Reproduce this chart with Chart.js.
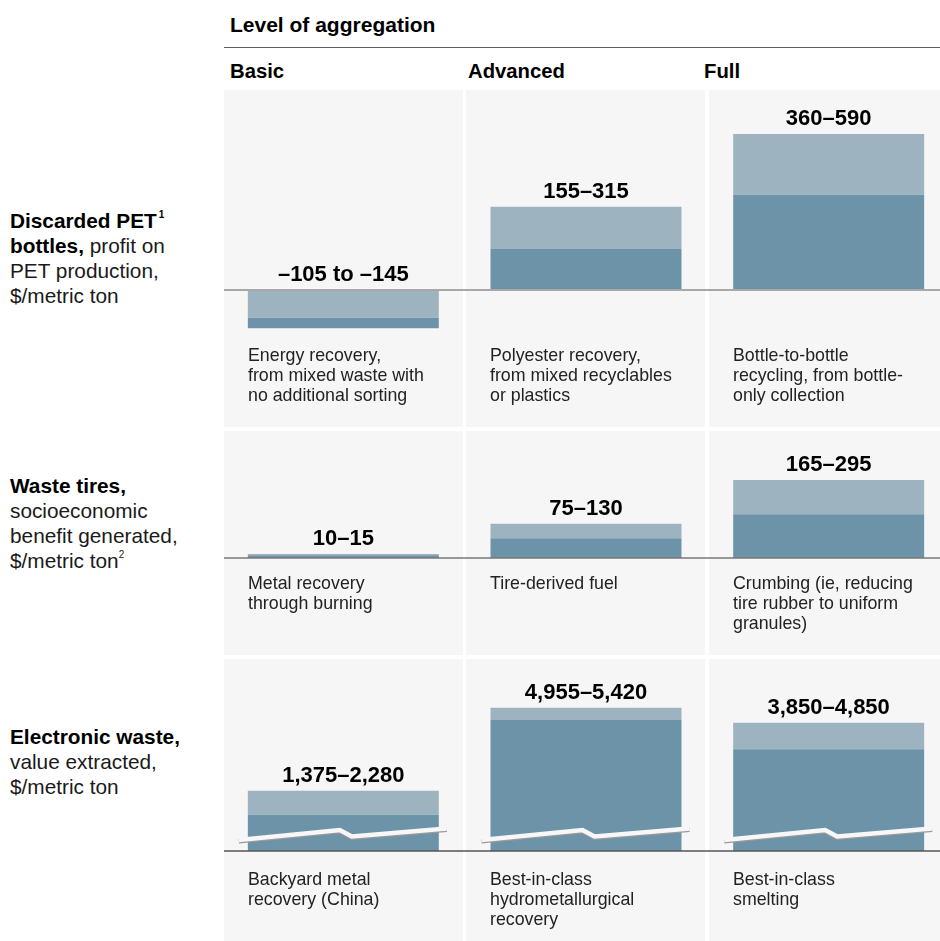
<!DOCTYPE html>
<html>
<head>
<meta charset="utf-8">
<script src="https://cdn.jsdelivr.net/npm/chart.js@4.4.1/dist/chart.umd.min.js"></script>
<style>
  html, body { margin:0; padding:0; background:#fff; }
  body { width:940px; height:941px; overflow:hidden; position:relative; font-family:"Liberation Sans", Arial, Helvetica, sans-serif; color:#000; }
  .abs { position:absolute; }
  .panel { position:absolute; background:#f6f6f6; }
  .hdr { position:absolute; font-weight:bold; font-size:20.3px; line-height:24px; white-space:nowrap; }
  .rowlab { position:absolute; left:10px; font-size:20.8px; line-height:25px; color:#1a1a1a; white-space:nowrap; }
  .rowlab b { color:#000; }
  .note { position:absolute; font-size:17.8px; line-height:20px; color:#222; white-space:nowrap; }
  sup { font-size:10px; line-height:0; vertical-align:10px; }
  canvas { position:absolute; }
</style>
</head>
<body>
<script>
// ---------- data ----------
const categories = ['Basic', 'Advanced', 'Full'];
const petLow    = [-105, 155, 360];
const petHigh   = [-145, 315, 590];
const tireLow   = [10, 75, 165];
const tireHigh  = [15, 130, 295];
const ewasteLow  = [1375, 4955, 3850];
const ewasteHigh = [2280, 5420, 4850];
const petNotes = [
  ['Energy recovery,', 'from mixed waste with', 'no additional sorting'],
  ['Polyester recovery,', 'from mixed recyclables', 'or plastics'],
  ['Bottle-to-bottle', 'recycling, from bottle-', 'only collection']
];
const tireNotes = [
  ['Metal recovery', 'through burning'],
  ['Tire-derived fuel'],
  ['Crumbing (ie, reducing', 'tire rubber to uniform', 'granules)']
];
const ewasteNotes = [
  ['Backyard metal', 'recovery (China)'],
  ['Best-in-class', 'hydrometallurgical', 'recovery'],
  ['Best-in-class', 'smelting']
];
</script>

<div class="hdr" style="left:230px; top:13px; font-size:21px;">Level of aggregation</div>
<div class="abs" style="left:224px; top:46.5px; width:716px; height:1.5px; background:#5f5f5f;"></div>
<div class="hdr" style="left:230px; top:59px;">Basic</div>
<div class="hdr" style="left:468px; top:59px;">Advanced</div>
<div class="hdr" style="left:704px; top:59px;">Full</div>

<div class="rowlab" style="top:208px;"><b>Discarded PET<sup>&thinsp;1</sup><br>bottles,</b> profit on<br>PET production,<br>$/metric ton</div>
<div class="rowlab" style="top:473px;"><b>Waste tires,</b><br>socioeconomic<br>benefit generated,<br>$/metric ton<sup style="font-weight:normal">2</sup></div>
<div class="rowlab" style="top:723.5px;"><b>Electronic waste,</b><br>value extracted,<br>$/metric ton</div>

<div id="panels"></div>
<div id="charts"></div>
<div id="notes"></div>

<script>
const colX = [[224, 463], [466, 705], [709, 940]];
const rowY = [[90, 427], [431, 655], [659, 941]];
const panelsEl = document.getElementById('panels');
rowY.forEach(r => colX.forEach(c => {
  const d = document.createElement('div');
  d.className = 'panel';
  d.style.left = c[0] + 'px'; d.style.top = r[0] + 'px';
  d.style.width = (c[1] - c[0]) + 'px'; d.style.height = (r[1] - r[0]) + 'px';
  panelsEl.appendChild(d);
}));

const noteX = [248, 490, 733];
const noteTop = [345, 573, 869];
const notesEl = document.getElementById('notes');
[petNotes, tireNotes, ewasteNotes].forEach((rowNotes, r) => {
  rowNotes.forEach((lines, c) => {
    const d = document.createElement('div');
    d.className = 'note';
    d.style.left = noteX[c] + 'px'; d.style.top = noteTop[r] + 'px';
    d.innerHTML = lines.join('<br>');
    notesEl.appendChild(d);
  });
});

const DARK = '#6d93a8';
const LIGHT = '#9db3c0';
const fmt = v => Math.abs(v).toLocaleString('en-US');
function rangeLabel(lo, hi) {
  if (lo < 0) return '\u2013' + fmt(lo) + ' to \u2013' + fmt(hi);
  return fmt(lo) + '\u2013' + fmt(hi);
}

const overlayPlugin = {
  id: 'overlay',
  afterDatasetsDraw(chart, args, opts) {
    const ctx = chart.ctx;
    const y = chart.scales.y;
    const y0 = y.getPixelForValue(0);
    const meta = chart.getDatasetMeta(0);
    // axis break marks
    if (opts.breakMark) {
      meta.data.forEach(bar => {
        const L = bar.x - bar.width / 2, R = bar.x + bar.width / 2;
        const pts = [[L - 9, y0 - 11], [L + 92, y0 - 21], [L + 104, y0 - 14.5], [R + 8, y0 - 22.5]];
        ctx.save();
        ctx.lineJoin = 'miter';
        ctx.beginPath();
        pts.forEach((p, i) => i ? ctx.lineTo(p[0], p[1] + 1.2) : ctx.moveTo(p[0], p[1] + 1.2));
        ctx.strokeStyle = '#9a9a9a'; ctx.lineWidth = 4.6; ctx.stroke();
        ctx.beginPath();
        pts.forEach((p, i) => i ? ctx.lineTo(p[0], p[1]) : ctx.moveTo(p[0], p[1]));
        ctx.strokeStyle = '#f7f7f7'; ctx.lineWidth = 4.4; ctx.stroke();
        ctx.restore();
      });
    }
    // baseline
    ctx.save();
    ctx.strokeStyle = opts.lineColor; ctx.lineWidth = opts.lineWidth;
    ctx.beginPath(); ctx.moveTo(2, y0); ctx.lineTo(chart.width, y0); ctx.stroke();
    // value labels
    ctx.fillStyle = '#000';
    ctx.font = 'bold 22px "Liberation Sans", Arial, sans-serif';
    ctx.textAlign = 'center'; ctx.textBaseline = 'alphabetic';
    meta.data.forEach((bar, i) => {
      const lo = opts.low[i], hi = opts.high[i];
      const top = y.getPixelForValue(Math.max(0, lo, hi));
      ctx.fillText(rangeLabel(lo, hi), bar.x, top - 9);
    });
    ctx.restore();
  }
};

function makeRow(idx, low, high, yMin, yMax, lineColor, lineWidth, breakMark) {
  const [top, bottom] = rowY[idx];
  const cv = document.createElement('canvas');
  cv.width = 728; cv.height = bottom - top;
  cv.style.left = '222px'; cv.style.top = top + 'px';
  cv.style.width = '728px'; cv.style.height = (bottom - top) + 'px';
  document.getElementById('charts').appendChild(cv);
  const darkData = low.map((l, i) => l < 0 ? [l, high[i]] : [0, l]);
  const lightData = low.map((l, i) => l < 0 ? [0, l] : [l, high[i]]);
  new Chart(cv, {
    type: 'bar',
    data: {
      labels: categories,
      datasets: [
        { data: darkData, backgroundColor: DARK, grouped: false, order: 1 },
        { data: lightData, backgroundColor: LIGHT, grouped: false, order: 2 }
      ]
    },
    options: {
      responsive: false, animation: false, devicePixelRatio: 1,
      layout: { padding: 0 },
      barPercentage: 0.787, categoryPercentage: 1,
      borderWidth: 0, borderSkipped: false,
      plugins: {
        legend: { display: false }, tooltip: { enabled: false }, title: { display: false },
        overlay: { low, high, lineColor, lineWidth, breakMark }
      },
      scales: {
        x: { display: false, offset: true },
        y: { display: false, min: yMin, max: yMax }
      }
    },
    plugins: [overlayPlugin]
  });
}

makeRow(0, petLow, petHigh, -518, 756.1, '#a8a8a8', 2, false);
makeRow(1, tireLow, tireHigh, -366.7, 480.2, '#777777', 1.5, false);
makeRow(2, ewasteLow, ewasteHigh, -3403, 7259, '#555555', 1.6, true);
</script>
</body>
</html>
